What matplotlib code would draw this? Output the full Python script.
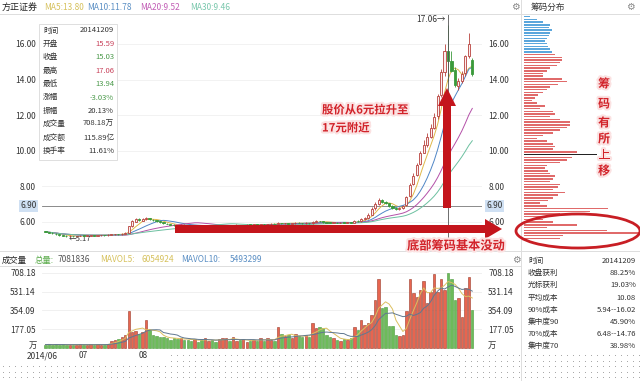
import numpy as np
import pandas as pd
import matplotlib
matplotlib.use('Agg')
import matplotlib.pyplot as plt
from matplotlib.patches import Rectangle, Ellipse, Polygon
import matplotlib.patheffects as pe

plt.rcParams['font.family'] = ['Noto Sans CJK SC', 'DejaVu Sans']

# ---------------- data ----------------
close = [5.45, 5.40, 5.36, 5.30, 5.27, 5.22, 5.20,
         5.22, 5.20, 5.21, 5.23, 5.22, 5.24, 5.25, 5.24, 5.26, 5.27, 5.26, 5.28,
         5.30, 5.32, 5.31, 5.35, 5.38,
         5.75, 6.05, 6.15,
         6.10, 6.18, 6.22, 6.15, 6.10, 6.05, 6.00,
         5.92, 5.88, 5.85, 5.82, 5.80, 5.84, 5.82,
         5.80, 5.78, 5.82, 5.79, 5.76, 5.78, 5.80, 5.77, 5.75, 5.78, 5.80, 5.82, 5.79, 5.81, 5.83, 5.80, 5.82, 5.85, 5.83, 5.86,
         5.84, 5.88, 5.86, 5.87, 5.90, 5.88, 5.95, 5.92, 5.94, 5.91, 5.93, 5.96, 5.94, 5.92, 5.95, 5.93, 6.02, 6.05, 6.03, 6.00,
         5.97, 5.95, 5.96, 5.94, 5.96, 5.95, 5.98, 5.97, 6.08, 6.05, 6.15, 6.22,
         6.40, 6.75, 7.00, 7.25, 7.15, 7.05, 6.90, 6.78, 6.72, 6.78, 6.92,
         7.40, 8.10, 8.60, 9.20, 9.90, 10.30, 10.80, 11.30, 11.90, 13.10, 14.40, 15.60, 15.03,
         14.50, 13.70, 13.90, 14.30, 15.30, 16.00, 14.30]
open_ = [5.50, 5.44, 5.40, 5.35, 5.31, 5.27, 5.23,
         5.20, 5.22, 5.20, 5.21, 5.23, 5.22, 5.24, 5.25, 5.24, 5.26, 5.27, 5.26,
         5.28, 5.30, 5.32, 5.31, 5.35,
         5.40, 5.78, 6.02,
         6.15, 6.08, 6.17, 6.20, 6.14, 6.10, 6.04,
         5.99, 5.91, 5.87, 5.85, 5.82, 5.80, 5.85,
         5.82, 5.80, 5.78, 5.82, 5.79, 5.76, 5.78, 5.80, 5.77, 5.75, 5.78, 5.80, 5.82, 5.79, 5.81, 5.83, 5.80, 5.82, 5.85, 5.83,
         5.86, 5.84, 5.88, 5.86, 5.87, 5.90, 5.88, 5.95, 5.92, 5.94, 5.91, 5.93, 5.96, 5.94, 5.92, 5.95, 5.93, 6.02, 6.05, 6.03,
         6.00, 5.97, 5.95, 5.96, 5.94, 5.96, 5.95, 5.98, 5.97, 6.08, 6.05, 6.15,
         6.22, 6.42, 6.78, 7.00, 7.25, 7.15, 7.05, 6.90, 6.78, 6.72, 6.78,
         6.95, 7.45, 8.15, 8.65, 9.25, 9.90, 10.30, 10.80, 11.30, 11.95, 13.15, 14.40, 15.59,
         15.05, 14.55, 13.65, 13.90, 14.35, 15.35, 15.10]
high = [5.52, 5.46, 5.42, 5.37, 5.33, 5.29, 5.25,
        5.25, 5.24, 5.23, 5.25, 5.25, 5.26, 5.27, 5.27, 5.28, 5.29, 5.29, 5.30,
        5.33, 5.35, 5.34, 5.38, 5.42,
        5.80, 6.12, 6.25,
        6.20, 6.22, 6.30, 6.24, 6.18, 6.12, 6.08,
        6.02, 5.95, 5.90, 5.88, 5.85, 5.87, 5.88,
        5.85, 5.83, 5.85, 5.84, 5.82, 5.81, 5.83, 5.83, 5.80, 5.80, 5.83, 5.85, 5.84, 5.84, 5.86, 5.85, 5.85, 5.88, 5.88, 5.89,
        5.89, 5.91, 5.90, 5.90, 5.93, 5.92, 5.99, 5.97, 5.97, 5.96, 5.96, 5.99, 5.98, 5.97, 5.98, 5.97, 6.08, 6.10, 6.08, 6.06,
        6.02, 6.00, 5.99, 5.99, 5.99, 5.99, 6.01, 6.01, 6.12, 6.12, 6.20, 6.28,
        6.48, 6.85, 7.12, 7.35, 7.32, 7.20, 7.08, 6.95, 6.84, 6.82, 6.98,
        7.45, 8.20, 8.75, 9.30, 10.00, 10.60, 11.00, 11.50, 12.10, 13.20, 14.60, 16.00, 17.06,
        15.60, 14.70, 14.10, 14.50, 15.40, 16.60, 15.20]
low = [5.42, 5.38, 5.33, 5.28, 5.24, 5.20, 5.17,
       5.18, 5.18, 5.18, 5.19, 5.20, 5.20, 5.22, 5.22, 5.22, 5.24, 5.24, 5.24,
       5.26, 5.28, 5.29, 5.29, 5.33,
       5.38, 5.72, 5.98,
       6.05, 6.05, 6.14, 6.12, 6.08, 6.02, 5.97,
       5.90, 5.86, 5.83, 5.79, 5.77, 5.78, 5.80,
       5.77, 5.75, 5.76, 5.77, 5.73, 5.74, 5.76, 5.75, 5.72, 5.73, 5.76, 5.78, 5.77, 5.77, 5.79, 5.78, 5.78, 5.80, 5.81, 5.81,
       5.82, 5.82, 5.84, 5.84, 5.85, 5.86, 5.86, 5.90, 5.90, 5.89, 5.89, 5.91, 5.92, 5.90, 5.90, 5.91, 5.91, 5.99, 6.00, 5.97,
       5.95, 5.92, 5.93, 5.92, 5.92, 5.93, 5.93, 5.95, 5.95, 6.02, 6.02, 6.12,
       6.18, 6.38, 6.70, 6.95, 7.08, 7.00, 6.85, 6.74, 6.68, 6.68, 6.75,
       6.90, 7.40, 8.10, 8.60, 9.20, 9.85, 10.20, 10.70, 11.20, 11.80, 13.00, 14.20, 13.94,
       14.40, 13.60, 13.40, 13.80, 14.20, 15.20, 14.20]
volume = [32, 35, 28, 36, 30, 34, 27, 30, 33, 29, 35, 31, 28, 34, 30, 36, 32, 29, 40,
          70, 80, 85, 100, 120,
          350, 150, 160, 130, 150, 265, 170,
          120, 110, 100, 105, 90, 80, 95, 85, 90, 75, 80,
          70, 85, 60, 80, 90, 70, 75, 60, 85, 95,
          90, 70, 100, 65, 75, 85, 60, 70, 80,
          70, 95, 65, 90, 75, 70,
          195, 130, 110, 120, 95, 130, 115, 105, 120, 100,
          240, 190, 200, 185, 120, 100, 90, 80, 70, 85, 75, 95,
          200, 170, 260, 220, 240, 310, 450, 650, 380, 390, 210, 210, 125, 110, 125,
          350, 650, 520, 485, 550, 630, 425, 530, 700, 530, 650, 550, 708.18,
          650, 450, 470, 290, 570, 670, 360]
cursor_idx = 116

chip_len = [6, 13, 19, 26, 25, 28, 26, 25, 23, 21, 23, 24, 26, 28,
            31, 38, 38, 36, 33, 26, 23, 19, 19, 38, 43, 34, 26, 23, 19, 14, 11, 8, 13, 21,
            16, 29, 31, 26, 36, 46, 46, 43, 36, 29, 19, 13, 23, 29, 31, 29, 53,
            73,
            48, 43, 36, 23, 21, 24, 26, 31, 29, 26, 36, 34, 29, 41, 34, 29, 24, 16, 23, 84,
            66, 36, 26, 19, 29, 53, 23, 83, 116, 39, 36]
chip_blue_count = 14
chip_avg_idx = 51

price_ticks = [6, 8, 10, 12, 14, 16]
vol_ticks = [177.05, 354.09, 531.14, 708.18]
month_labels = ['2014/06', '07', '08']
month_pos = [-0.9, 10.8, 28.1]

info_labels = ['时间', '开盘', '收盘', '最高', '最低', '涨幅', '振幅', '成交量', '成交额', '换手率']
info_values = ['20141209', '15.59', '15.03', '17.06', '13.94', '-3.03%', '20.13%', '708.18万', '115.89亿', '11.61%']
info_colors = ['#333333', '#c8415a', '#4b9a4b', '#c8415a', '#4b9a4b', '#4b9a4b', '#333333', '#333333', '#333333', '#333333']

chip_info_labels = ['时间', '收盘获利', '光标获利', '平均成本', '90%成本', '集中度90', '70%成本', '集中度70']
chip_info_values = ['20141209', '88.25%', '19.03%', '10.08', '5.94--16.02', '45.90%', '6.48--14.76', '38.98%']

ma_header = [('MA5:13.80', '#d6c15c'), ('MA10:11.78', '#5b8fc4'), ('MA20:9.52', '#c25db5'), ('MA30:9.46', '#79c7ac')]
vol_header = [('成交量', '#222222'), ('总量:', '#5aab4a'), ('7081836', '#555555'), ('MAVOL5:', '#d6c15c'),
              ('6054924', '#d6c15c'), ('MAVOL10:', '#5b8fc4'), ('5493299', '#5b8fc4')]

# ---------------- figure ----------------
W, H = 640, 381
fig = plt.figure(figsize=(6.4, 3.81), dpi=100)
fig.patch.set_facecolor('white')


def box(x0, y0, x1, y1):
    return [x0 / W, 1 - y1 / H, (x1 - x0) / W, (y1 - y0) / H]


x = np.arange(len(close))
o = np.array(open_); c = np.array(close); h = np.array(high); l = np.array(low)
v = np.array(volume)
up = c >= o
UPC = '#b8413c'
DNC = '#3b9a3b'

# main price axes
ax = fig.add_axes(box(42, 14, 482, 250))
ax.set_xlim(-1, 125.8)
ax.set_ylim(4.427, 17.685)
for s in ax.spines.values():
    s.set_visible(False)
ax.set_xticks([])
ax.set_yticks(price_ticks)
ax.set_yticklabels([f'{t:.2f}' for t in price_ticks])
ax.tick_params(axis='y', length=0, labelsize=6, labelleft=True, labelright=True, pad=4.5, colors='#333333')
ax.grid(axis='y', color='#f0f0f0', lw=0.6)
ax.set_axisbelow(True)

s = pd.Series(close)
for n, col in [(5, '#e0b84a'), (10, '#4f86c6'), (20, '#b450a8'), (30, '#6cc0a0')]:
    ax.plot(x, s.rolling(n, min_periods=1).mean(), color=col, lw=0.7, zorder=2)

ax.vlines(x[up], l[up], h[up], color=UPC, lw=0.6, zorder=3)
ax.vlines(x[~up], l[~up], h[~up], color=DNC, lw=0.6, zorder=3)
body = np.maximum(np.abs(c - o), 0.03)
bottom = np.minimum(o, c)
ax.bar(x[up], body[up], bottom=bottom[up], width=0.62, facecolor='#fbeeee', edgecolor=UPC, lw=0.6, zorder=4)
ax.bar(x[~up], body[~up], bottom=bottom[~up], width=0.62, facecolor=DNC, edgecolor=DNC, lw=0.6, zorder=4)

ax.axhline(6.9, color='#777777', lw=0.6, zorder=1)
ax.axvline(cursor_idx, color='#555555', lw=0.6, zorder=5)
ax.text(cursor_idx - 0.8, high[cursor_idx] + 0.3, f'{high[cursor_idx]:.2f}→', ha='right', va='center', fontsize=6, color='#333333')
imin = int(np.argmin(l))
ax.text(imin + 0.6, l[imin] - 0.1, f'←{l[imin]:.2f}', ha='left', va='center', fontsize=5.5, color='#333333')
for xx, ha in [(-0.01, 'right'), (1.01, 'left')]:
    ax.text(xx if ha == 'left' else -0.012, 6.9, '6.90', transform=ax.get_yaxis_transform(), ha=ha, va='center',
            fontsize=6, color='#333333', bbox=dict(boxstyle='square,pad=0.15', fc='#cfe0f3', ec='none'))

# volume axes
axv = fig.add_axes(box(42, 265, 482, 350))
axv.set_xlim(-1, 125.8)
axv.set_ylim(-18.9, 783.7)
for sp in axv.spines.values():
    sp.set_visible(False)
axv.set_yticks(vol_ticks)
axv.set_yticklabels([f'{t:.2f}' for t in vol_ticks])
axv.tick_params(axis='y', length=0, labelsize=6, labelleft=True, labelright=True, pad=4.5, colors='#333333')
axv.set_xticks(month_pos)
axv.set_xticklabels(month_labels)
axv.tick_params(axis='x', length=0, labelsize=6, pad=1, colors='#333333')
axv.grid(axis='y', color='#eeeeee', lw=0.6)
axv.set_axisbelow(True)
axv.bar(x[up], v[up], width=0.7, facecolor='#e8654f', edgecolor='#9a3b2b', lw=0.4, zorder=2)
axv.bar(x[~up], v[~up], width=0.7, facecolor='#6dbb5a', edgecolor='#4a9a3a', lw=0.4, zorder=2)
sv = pd.Series(volume)
axv.plot(x, sv.rolling(5, min_periods=1).mean(), color='#dcc060', lw=0.7, zorder=3)
axv.plot(x, sv.rolling(10, min_periods=1).mean(), color='#607890', lw=0.7, zorder=3)
for xx, ha in [(-0.012, 'right'), (1.012, 'left')]:
    axv.text(xx, 20, '万', transform=axv.get_yaxis_transform(), ha=ha, va='center', fontsize=6, color='#333333')

# chip distribution axes
axc = fig.add_axes(box(522, 14, 640, 250))
axc.set_xlim(-2, 116)
axc.set_ylim(86.3, -1.0)
axc.axis('off')
ci = np.arange(len(chip_len))
cols = ['#5aa6dc' if i < chip_blue_count else '#e06a6a' for i in ci]
cols[chip_avg_idx] = '#222222'
axc.barh(ci, chip_len, height=0.55, color=cols)

# overlay in pixel coordinates
ov = fig.add_axes([0, 0, 1, 1])
ov.set_xlim(0, W)
ov.set_ylim(H, 0)
ov.axis('off')
ov.patch.set_alpha(0)

for seg in [((0, 14), (640, 14)), ((521, 0), (521, 381)), ((0, 251), (640, 251)), ((0, 266), (521, 266))]:
    ov.plot([seg[0][0], seg[1][0]], [seg[0][1], seg[1][1]], color='#dddddd', lw=0.7)

# header texts
ov.text(2, 7, '方正证券', fontsize=6.5, va='center', color='#222222')
for (t, col), xx in zip(ma_header, [44, 87, 140, 190]):
    ov.text(xx, 7, t, fontsize=6, va='center', color=col)
ov.text(531, 7, '筹码分布', fontsize=6.2, va='center', color='#333333')
for xx, yy in [(515, 7), (630, 7), (516, 260)]:
    ov.text(xx, yy, '⚙', fontsize=7, ha='center', va='center', color='#888888')
for (t, col), xx in zip(vol_header, [2, 35, 58, 100, 142, 181, 230]):
    ov.text(xx, 260, t, fontsize=6, va='center', color=col)

# info box
ov.add_patch(Rectangle((39, 24), 78, 136, fc='white', ec='#d9d9d9', lw=0.6, zorder=5))
for k, (lab, val, col) in enumerate(zip(info_labels, info_values, info_colors)):
    yy = 30.5 + 13.4 * k
    ov.text(43, yy, lab, fontsize=5.5, va='center', color='#333333', zorder=6)
    ov.text(114, yy, val, fontsize=5.5, va='center', ha='right', color=col, zorder=6)

# chip info table
for k, (lab, val) in enumerate(zip(chip_info_labels, chip_info_values)):
    yy = 261 + 12.2 * k
    ov.text(528, yy, lab, fontsize=5.5, va='center', color='#333333')
    ov.text(636, yy, val, fontsize=5.5, va='center', ha='right', color='#333333')

# arrows
RED = '#c4151c'
ov.add_patch(Polygon([(175, 225), (485, 225), (485, 219), (502, 229), (485, 239), (485, 233), (175, 233)],
                     closed=True, fc=RED, ec='none', zorder=7))
ov.add_patch(Polygon([(443, 208), (443, 106), (438, 106), (447, 88), (456, 106), (451, 106), (451, 208)],
                     closed=True, fc=RED, ec='none', zorder=7))
ov.add_patch(Ellipse((578, 231), 124, 34, fc='none', ec='#c81e24', lw=2, zorder=8))

halo = [pe.withStroke(linewidth=3, foreground='#fbe2e2')]
ov.text(322, 110, '股价从6元拉升至', fontsize=8.2, fontweight='bold', color='#d2232a', va='center', path_effects=halo, zorder=9)
ov.text(322, 128, '17元附近', fontsize=8.2, fontweight='bold', color='#d2232a', va='center', path_effects=halo, zorder=9)
ov.text(407, 246, '底部筹码基本没动', fontsize=8.8, fontweight='bold', color='#d2232a', va='center', path_effects=halo, zorder=9)
for ch, yy in zip('筹码有所上移', [84, 104, 123, 139, 155, 171]):
    ov.text(604, yy, ch, fontsize=8.6, fontweight='bold', color='#d2232a', ha='center', va='center', path_effects=halo, zorder=9)

# dotted background strip at the bottom
dx, dy = [], []
for yy in [355, 360.5, 366, 371.5, 377]:
    for xx in range(3, 640, 6):
        if yy < 364 and xx < 167:
            continue
        dx.append(xx); dy.append(yy)
ov.scatter(dx, dy, s=0.4, color='#9a9a9a', linewidths=0, zorder=1)

fig.savefig('out.png', dpi=100, facecolor='white')
